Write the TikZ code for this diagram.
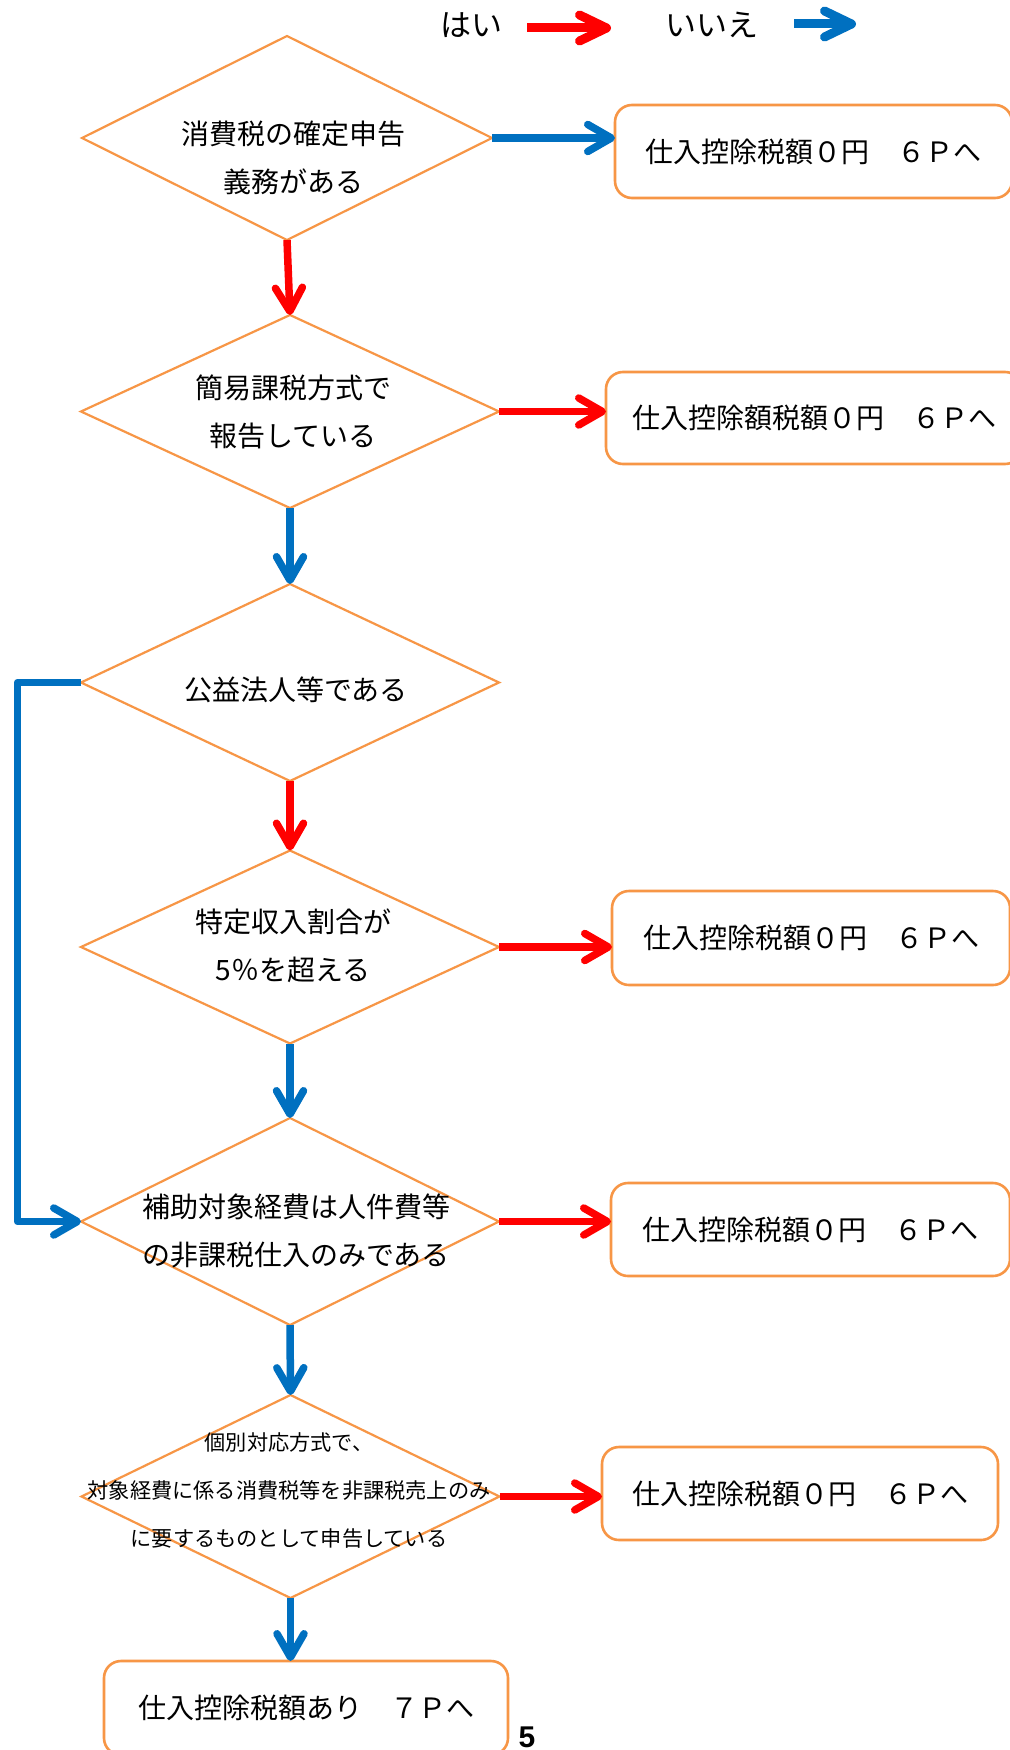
\documentclass[tikz,border=0pt]{standalone}
\usepackage{fontspec}
\setmainfont{Noto Sans CJK JP}
\newfontfamily\pagenumfont{Liberation Sans}
\usetikzlibrary{shapes.geometric,arrows.meta}
\definecolor{orng}{HTML}{F79646}
\definecolor{myred}{HTML}{FF0000}
\definecolor{myblue}{HTML}{0070C0}
\begin{document}
\begin{tikzpicture}[x=0.5pt,y=-0.5pt,
  dec/.style={draw=orng, line width=1.1pt, shape=diamond, inner sep=0pt, outer sep=0pt},
  txt/.style={align=center, inner sep=0pt, font=\fontsize{14}{24}\selectfont},
  smalltxt/.style={align=center, inner sep=0pt, font=\fontsize{10.6}{24}\selectfont},
  res/.style={draw=orng, line width=1.3pt, rounded corners=8.5pt, inner sep=0pt, outer sep=0pt, font=\fontsize{14}{17}\selectfont},
  yesarrow/.style={draw=myred, line width=3.75pt, -{Straight Barb[length=11.75pt,width=13.5pt,round]}},
  noarrow/.style={draw=myblue, line width=3.75pt, -{Straight Barb[length=11.75pt,width=13.5pt,round]}},
  legyes/.style={draw=myred, line width=4.5pt, -{Straight Barb[length=13.5pt,width=13pt,round]}},
  legno/.style={draw=myblue, line width=4.5pt, -{Straight Barb[length=13.5pt,width=13pt,round]}},
  legtxt/.style={inner sep=0pt, font=\fontsize{15.5}{18}\selectfont}
]
\path[use as bounding box, fill=white] (0,0) rectangle (1009,1750);

% legend
\node[legtxt] (yeslabel) at (471,25) {はい};
\coordinate (ya) at (527,28);
\coordinate (yb) at (611,28);
\draw[legyes] (ya) -- (yb);
\node[legtxt] (nolabel) at (712,25) {いいえ};
\coordinate (na) at (794,24);
\coordinate (nb) at (856,24);
\draw[legno] (na) -- (nb);

% decisions
\node[dec, minimum width=205pt, minimum height=102pt] (d1) at (287,138) {};
\node[dec, minimum width=209pt, minimum height=96.5pt] (d2) at (290,411.5) {};
\node[dec, minimum width=209pt, minimum height=98.5pt] (d3) at (290,682.5) {};
\node[dec, minimum width=209pt, minimum height=96.5pt] (d4) at (290,947) {};
\node[dec, minimum width=209pt, minimum height=103.5pt] (d5) at (290,1221.5) {};
\node[dec, minimum width=209pt, minimum height=101.5pt] (d6) at (290.5,1496.5) {};

\node[txt] (t1) at (293,157.5) {消費税の確定申告\\義務がある};
\node[txt] (t2) at (293,412) {簡易課税方式で\\報告している};
\node[txt] (t3) at (296,690) {公益法人等である};
\node[txt] (t4) at (293,945.5) {特定収入割合が\\5％を超える};
\node[txt] (t5) at (296,1231) {補助対象経費は人件費等\\の非課税仕入のみである};
\node[smalltxt] (t6) at (289,1490) {個別対応方式で、\\対象経費に係る消費税等を非課税売上のみ\\に要するものとして申告している};

% results
\node[res, minimum width=198.5pt, minimum height=46.5pt] (b1) at (813.5,151.5) {仕入控除税額０円　６Ｐへ};
\node[res, minimum width=208pt, minimum height=46pt] (b2) at (814,418) {仕入控除額税額０円　６Ｐへ};
\node[res, minimum width=199pt, minimum height=47pt] (b4) at (811,938) {仕入控除税額０円　６Ｐへ};
\node[res, minimum width=199.5pt, minimum height=46.5pt] (b5) at (810.5,1229.5) {仕入控除税額０円　６Ｐへ};
\node[res, minimum width=198pt, minimum height=46.5pt] (b6) at (800,1493.5) {仕入控除税額０円　６Ｐへ};
\node[res, minimum width=202pt, minimum height=47pt] (b7) at (306,1708) {仕入控除税額あり　７Ｐへ};

% page number
\node[inner sep=0pt, anchor=base, font=\pagenumfont\bfseries\fontsize{15}{18}\selectfont] (pnum) at (527,1747) {5};

% connectors
\draw[noarrow] (d1.east) -- (d1.east -| b1.west);
\draw[yesarrow] (d1.south) -- (d2.north);
\draw[yesarrow] (d2.east) -- (d2.east -| b2.west);
\draw[noarrow] (d2.south) -- (d3.north);
\draw[yesarrow] (d3.south) -- (d4.north);
\draw[noarrow, line join=round] (d3.west) -- ++(-63.5,0) |- (d5.west);
\draw[yesarrow] (d4.east) -- (d4.east -| b4.west);
\draw[noarrow] (d4.south) -- (d5.north);
\draw[yesarrow] (d5.east) -- (d5.east -| b5.west);
\draw[noarrow] (d5.south) -- (d6.north);
\draw[yesarrow] (d6.east) -- (d6.east -| b6.west);
\draw[noarrow] (d6.south) -- (d6.south |- b7.north);
\end{tikzpicture}
\end{document}
